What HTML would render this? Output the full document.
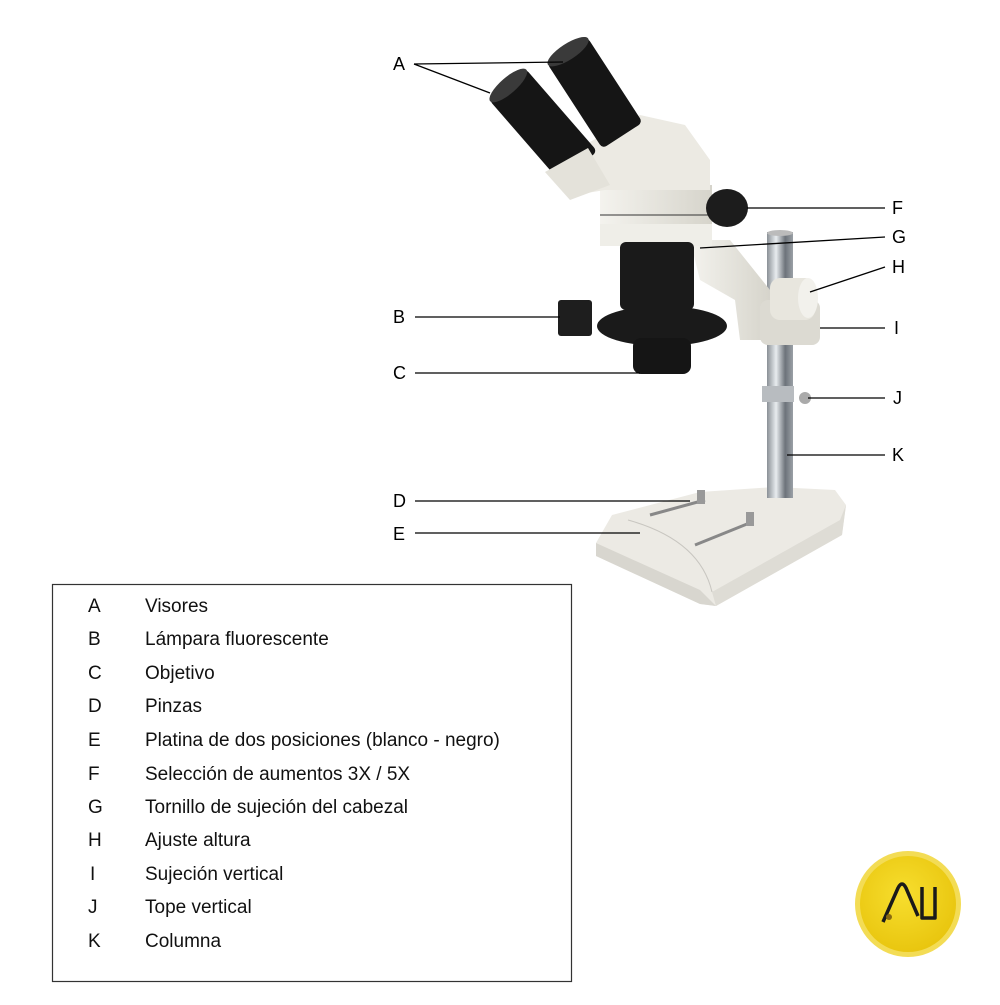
<!DOCTYPE html>
<html><head><meta charset="utf-8"><style>
body{margin:0;background:#fff;width:1000px;height:1000px;overflow:hidden;font-family:"Liberation Sans",sans-serif}
</style></head><body>
<svg width="1000" height="1000" viewBox="0 0 1000 1000" xmlns="http://www.w3.org/2000/svg" font-family="Liberation Sans, sans-serif">
<defs>
<linearGradient id="col" x1="0" x2="1"><stop offset="0" stop-color="#8a9096"/><stop offset=".35" stop-color="#e8ecef"/><stop offset=".7" stop-color="#6d737a"/><stop offset="1" stop-color="#9aa0a6"/></linearGradient>
<linearGradient id="wh" x1="0" x2="1"><stop offset="0" stop-color="#f4f3ee"/><stop offset="1" stop-color="#d6d4cb"/></linearGradient>
<radialGradient id="yl" cx=".45" cy=".4" r=".6"><stop offset="0" stop-color="#f7de2e"/><stop offset="1" stop-color="#e9c60f"/></radialGradient>
</defs>
<!-- base -->
<polygon points="596,543 612,515 700,492 775,487 835,490 846,505 842,535 716,606 700,604 596,556" fill="#eceae4"/>
<polygon points="596,543 700,590 716,606 700,604 596,556" fill="#d8d6cf"/>
<polygon points="716,606 842,535 846,505 840,520 712,592" fill="#dedcd5"/>
<path d="M628,520 Q700,540 712,592" stroke="#c8c6c0" fill="none"/>
<line x1="650" y1="515" x2="705" y2="500" stroke="#888" stroke-width="3"/>
<line x1="695" y1="545" x2="752" y2="522" stroke="#888" stroke-width="3"/>
<rect x="697" y="490" width="8" height="14" fill="#999"/><rect x="746" y="512" width="8" height="14" fill="#999"/>
<!-- column -->
<rect x="767" y="232" width="26" height="266" fill="url(#col)"/>
<ellipse cx="780" cy="233" rx="13" ry="3" fill="#bbb"/>
<rect x="762" y="386" width="32" height="16" fill="#b8bcc0"/>
<circle cx="805" cy="398" r="6" fill="#aaa"/>
<!-- arm -->
<polygon points="690,240 730,240 770,290 770,340 740,340 735,300 700,280" fill="url(#wh)"/>
<rect x="760" y="300" width="60" height="45" rx="8" fill="#dcdad2"/>
<rect x="770" y="278" width="45" height="42" rx="10" fill="#e8e6de"/>
<ellipse cx="808" cy="298" rx="10" ry="20" fill="#f2f1ec"/>
<!-- zoom body -->
<rect x="600" y="185" width="112" height="58" fill="url(#wh)"/>
<line x1="600" y1="215" x2="712" y2="215" stroke="#333"/>
<rect x="600" y="224" width="112" height="22" fill="#efeee8"/>
<ellipse cx="727" cy="208" rx="21" ry="19" fill="#1c1c1c"/>
<!-- head -->
<polygon points="575,150 640,115 685,125 710,160 710,190 605,190 575,195" fill="#eceae3"/>
<!-- eyepieces -->
<g transform="rotate(-41 507 84)"><rect x="483" y="84" width="48" height="110" rx="5" fill="#151515"/><ellipse cx="507" cy="86" rx="24" ry="8" fill="#3a3a3a"/></g>
<g transform="rotate(-33 567 50)"><rect x="543" y="50" width="48" height="102" rx="5" fill="#151515"/><ellipse cx="567" cy="52" rx="24" ry="8" fill="#3a3a3a"/></g>
<polygon points="545,172 588,148 610,185 570,200" fill="#e4e2da"/>
<!-- lower optics -->
<rect x="620" y="242" width="74" height="68" rx="6" fill="#1a1a1a"/>
<rect x="558" y="300" width="34" height="36" rx="3" fill="#1e1e1e"/>
<ellipse cx="662" cy="326" rx="65" ry="20" fill="#1a1a1a"/>
<rect x="633" y="338" width="58" height="36" rx="8" fill="#151515"/>
<!-- leaders -->
<g stroke="#000" stroke-width="1.3" fill="none">
<line x1="414" y1="64" x2="490" y2="93"/><line x1="414" y1="64" x2="563" y2="62"/>
<line x1="747" y1="208" x2="885" y2="208"/><line x1="700" y1="248" x2="885" y2="237"/>
<line x1="810" y1="292" x2="885" y2="267"/><line x1="820" y1="328" x2="885" y2="328"/>
<line x1="808" y1="398" x2="885" y2="398"/><line x1="787" y1="455" x2="885" y2="455"/>
<line x1="415" y1="317" x2="560" y2="317"/><line x1="415" y1="373" x2="640" y2="373"/>
<line x1="415" y1="501" x2="690" y2="501"/><line x1="415" y1="533" x2="640" y2="533"/>
</g>
<g font-size="18" fill="#000">
<text x="393" y="70">A</text><text x="393" y="323">B</text><text x="393" y="379">C</text><text x="393" y="507">D</text><text x="393" y="540">E</text>
<text x="892" y="214">F</text><text x="892" y="243">G</text><text x="892" y="273">H</text><text x="894" y="334">I</text><text x="893" y="404">J</text><text x="892" y="461">K</text>
</g>
<!-- legend -->
<rect x="52.5" y="584.5" width="519" height="397" fill="none" stroke="#333" stroke-width="1.2"/>
<g font-size="19" fill="#111">
<text x="88" y="612">A</text><text x="145" y="612">Visores</text>
<text x="88" y="645">B</text><text x="145" y="645">Lámpara fluorescente</text>
<text x="88" y="679">C</text><text x="145" y="679">Objetivo</text>
<text x="88" y="712">D</text><text x="145" y="712">Pinzas</text>
<text x="88" y="746">E</text><text x="145" y="746">Platina de dos posiciones (blanco - negro)</text>
<text x="88" y="780">F</text><text x="145" y="780">Selección de aumentos 3X / 5X</text>
<text x="88" y="813">G</text><text x="145" y="813">Tornillo de sujeción del cabezal</text>
<text x="88" y="846">H</text><text x="145" y="846">Ajuste altura</text>
<text x="90" y="880">I</text><text x="145" y="880">Sujeción vertical</text>
<text x="88" y="913">J</text><text x="145" y="913">Tope vertical</text>
<text x="88" y="947">K</text><text x="145" y="947">Columna</text>
</g>
<!-- logo -->
<circle cx="908" cy="904" r="53" fill="#f3dc55"/>
<circle cx="908" cy="904" r="48" fill="url(#yl)"/>
<path d="M883,922 L898,888 Q902,880 906,888 L918,916 M922,887 L922,918 L935,918 L935,887" stroke="#1a1a1a" stroke-width="3.5" fill="none" stroke-linejoin="round"/>
<circle cx="889" cy="917" r="3" fill="#8a6a10"/>
</svg>
</body></html>
